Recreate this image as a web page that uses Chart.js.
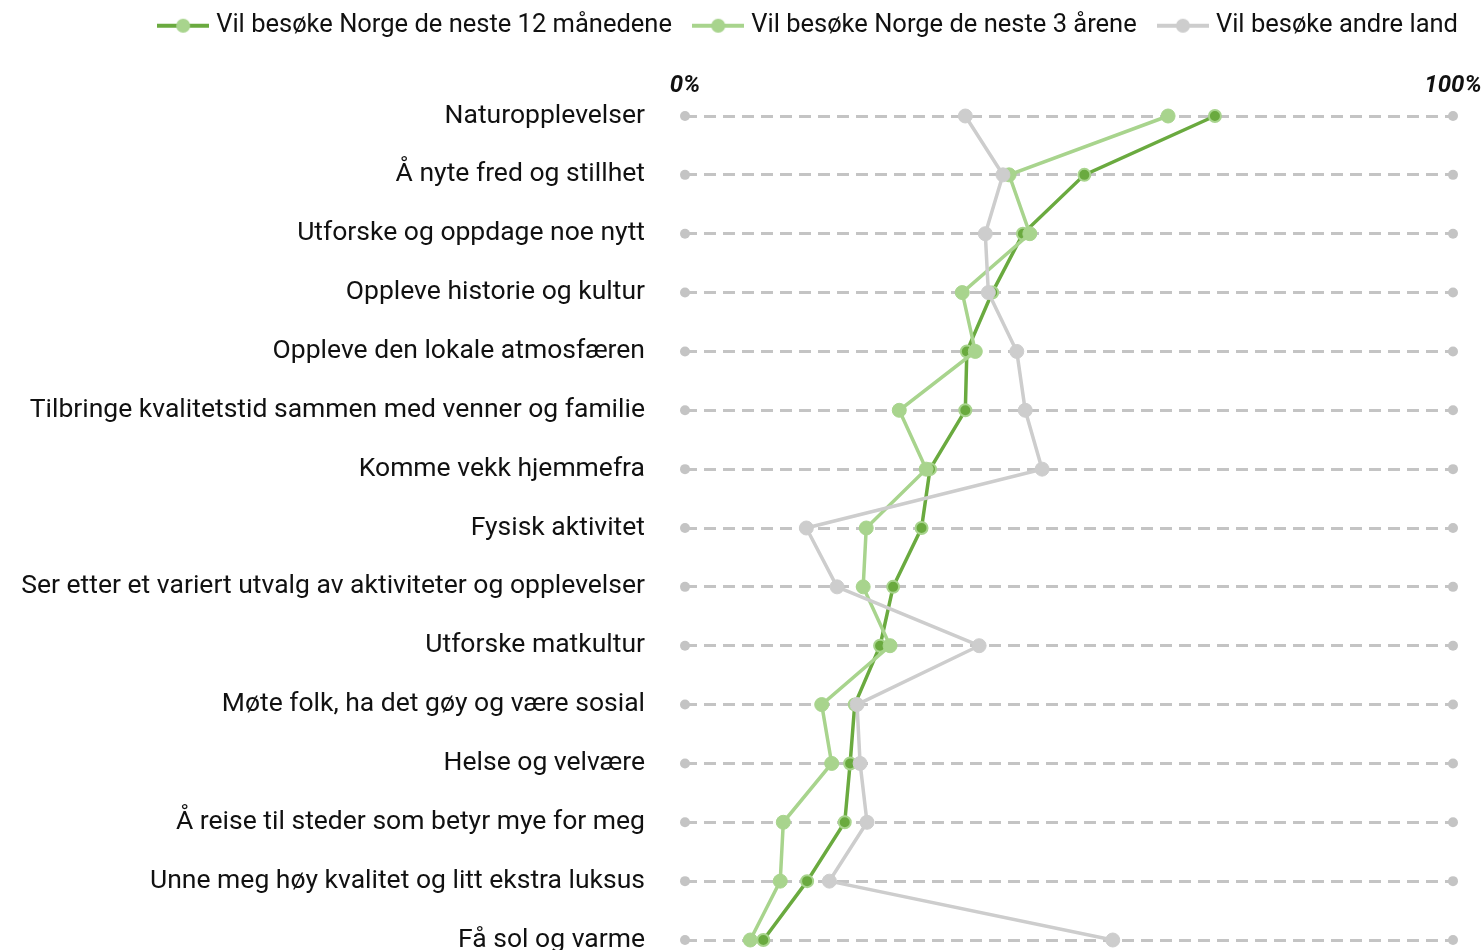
<!DOCTYPE html>
<html>
<head>
<meta charset="utf-8">
<script src="https://cdn.jsdelivr.net/npm/chart.js@4.4.1/dist/chart.umd.min.js"></script>
<style>
  html, body { margin: 0; padding: 0; background: #fff; overflow: hidden; }
  .wrap { position: relative; width: 1484px; height: 950px; }
</style>
</head>
<body>
<div class="wrap"><canvas id="chart"></canvas></div>
<script>
const categories = [
  "Naturopplevelser",
  "Å nyte fred og stillhet",
  "Utforske og oppdage noe nytt",
  "Oppleve historie og kultur",
  "Oppleve den lokale atmosfæren",
  "Tilbringe kvalitetstid sammen med venner og familie",
  "Komme vekk hjemmefra",
  "Fysisk aktivitet",
  "Ser etter et variert utvalg av aktiviteter og opplevelser",
  "Utforske matkultur",
  "Møte folk, ha det gøy og være sosial",
  "Helse og velvære",
  "Å reise til steder som betyr mye for meg",
  "Unne meg høy kvalitet og litt ekstra luksus",
  "Få sol og varme"
];
const seriesNames = [
  "Vil besøke Norge de neste 12 månedene",
  "Vil besøke Norge de neste 3 årene",
  "Vil besøke andre land"
];
// percent values
const next12Months = [69.0, 52.0, 44.0, 40.0, 36.7, 36.5, 31.9, 30.8, 27.1, 25.4, 22.1, 21.5, 20.8, 15.9, 10.2];
const next3Years = [62.9, 42.2, 44.9, 36.1, 37.8, 27.9, 31.4, 23.6, 23.2, 26.7, 17.8, 19.1, 12.8, 12.4, 8.5];
const otherCountries = [36.5, 41.4, 39.1, 39.5, 43.2, 44.3, 46.5, 15.8, 19.8, 38.3, 22.4, 22.8, 23.7, 18.8, 55.7];
const axisTicks = [0, 100];

const darkGreen = "#6aaa3f";
const lightGreen = "#a8d48d";
const grey = "#cdcdcd";
const gridGrey = "#c4c4c4";
const fontName = "Roboto, 'Liberation Sans', sans-serif";

// line + dot marker for the legend
function legendMarker(lineColor, dotColor) {
  const c = document.createElement("canvas");
  c.width = 52;
  c.height = 18;
  const ctx = c.getContext("2d");
  ctx.strokeStyle = lineColor;
  ctx.lineWidth = 4;
  ctx.beginPath();
  ctx.moveTo(0, 9);
  ctx.lineTo(52, 9);
  ctx.stroke();
  ctx.fillStyle = dotColor;
  ctx.beginPath();
  ctx.arc(26, 9, 7, 0, Math.PI * 2);
  ctx.fill();
  return c;
}
const markers = [
  legendMarker(darkGreen, lightGreen),
  legendMarker(lightGreen, lightGreen),
  legendMarker(grey, grey)
];

// small dots at both ends of each dashed row line
const gridEnds = {
  id: "gridEnds",
  beforeDatasetsDraw(chart) {
    const { ctx, scales } = chart;
    ctx.save();
    ctx.fillStyle = gridGrey;
    categories.forEach((c, i) => {
      const py = scales.y.getPixelForValue(i);
      axisTicks.forEach((v) => {
        ctx.beginPath();
        ctx.arc(scales.x.getPixelForValue(v), py, 5, 0, Math.PI * 2);
        ctx.fill();
      });
    });
    ctx.restore();
  }
};

const ctx = document.getElementById("chart").getContext("2d");
new Chart(ctx, {
  type: "line",
  data: {
    labels: categories,
    datasets: [
      {
        label: seriesNames[0],
        data: next12Months,
        borderColor: darkGreen,
        backgroundColor: darkGreen,
        pointBackgroundColor: darkGreen,
        pointBorderColor: lightGreen,
        pointBorderWidth: 2,
        pointRadius: 6,
        borderWidth: 3.5,
        order: 2
      },
      {
        label: seriesNames[1],
        data: next3Years,
        borderColor: lightGreen,
        backgroundColor: lightGreen,
        pointBackgroundColor: lightGreen,
        pointBorderColor: lightGreen,
        pointBorderWidth: 1,
        pointRadius: 7,
        borderWidth: 3.5,
        order: 1
      },
      {
        label: seriesNames[2],
        data: otherCountries,
        borderColor: grey,
        backgroundColor: grey,
        pointBackgroundColor: grey,
        pointBorderColor: grey,
        pointBorderWidth: 1,
        pointRadius: 7,
        borderWidth: 3.5,
        order: 0
      }
    ]
  },
  options: {
    indexAxis: "y",
    responsive: true,
    maintainAspectRatio: false,
    animation: false,
    clip: false,
    elements: { line: { tension: 0 } },
    layout: {
      padding: { top: -13, right: 0, bottom: 10, left: 0 }
    },
    scales: {
      x: {
        type: "linear",
        position: "top",
        min: 0,
        max: 100,
        grid: { display: false },
        border: { display: false },
        afterBuildTicks: (scale) => {
          scale.ticks = axisTicks.map((v) => ({ value: v }));
        },
        afterFit: (scale) => {
          scale.height = 67.5;
          scale.paddingLeft = 0;
          scale.paddingRight = 31;
        },
        ticks: {
          padding: 8,
          color: "#111",
          maxRotation: 0,
          font: { family: fontName, size: 24, style: "italic", weight: "bold" },
          callback: (v) => v + "%"
        }
      },
      y: {
        type: "category",
        offset: false,
        grid: { color: gridGrey, lineWidth: 3, drawTicks: false },
        border: { display: false, dash: [12, 7] },
        afterFit: (scale) => {
          scale.width = 685;
          scale.paddingTop = 0;
          scale.paddingBottom = 0;
        },
        ticks: {
          padding: 40,
          color: "#111",
          font: { family: fontName, size: 26.5 }
        }
      }
    },
    plugins: {
      tooltip: { enabled: false },
      legend: {
        position: "top",
        align: "end",
        labels: {
          usePointStyle: true,
          pointStyleWidth: 40.5,
          boxHeight: 18,
          padding: 26,
          color: "#111",
          font: { family: fontName, size: 25.5 },
          generateLabels: (chart) =>
            chart.data.datasets.map((ds, i) => ({
              text: ds.label,
              pointStyle: markers[i],
              datasetIndex: i,
              lineWidth: 0,
              fontColor: "#111"
            }))
        }
      }
    }
  },
  plugins: [gridEnds]
});
</script>
</body>
</html>
